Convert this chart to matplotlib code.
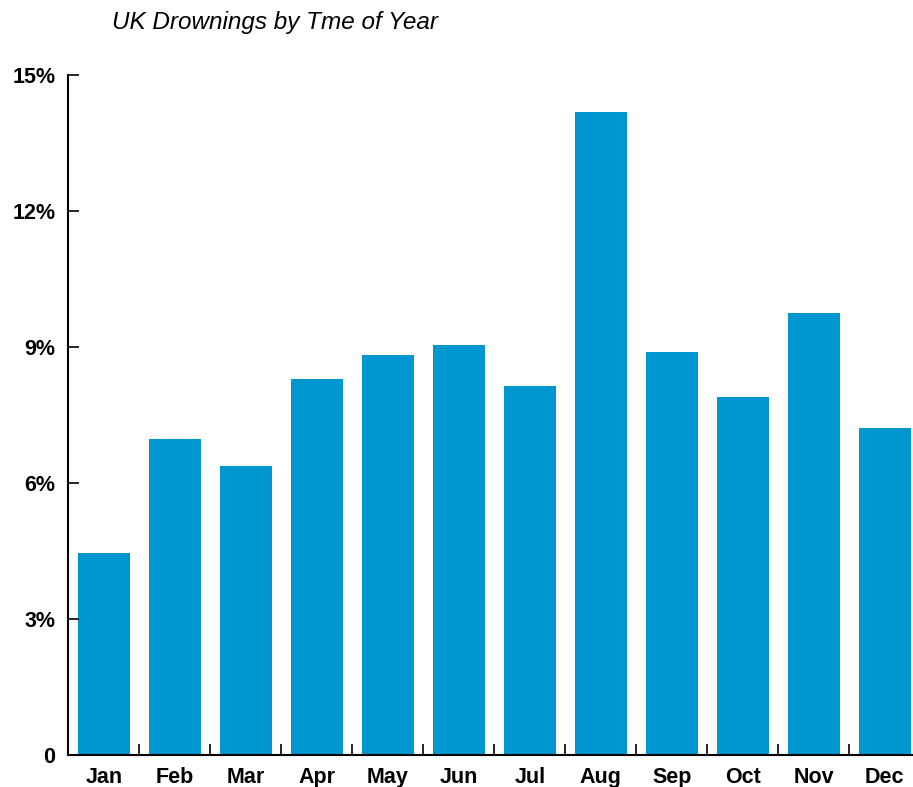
import matplotlib.pyplot as plt
import numpy as np

# share of UK drownings per month (%)
months = ['Jan', 'Feb', 'Mar', 'Apr', 'May', 'Jun',
          'Jul', 'Aug', 'Sep', 'Oct', 'Nov', 'Dec']
share = [4.46, 6.97, 6.38, 8.29, 8.82, 9.04,
         8.14, 14.18, 8.89, 7.90, 9.75, 7.21]
ytick_vals = [0, 3, 6, 9, 12, 15]
ytick_labels = ['0', '3%', '6%', '9%', '12%', '15%']

plt.rcParams['font.family'] = ['Liberation Sans', 'DejaVu Sans']

fig = plt.figure(figsize=(9.13, 7.87), dpi=100)
ax = fig.add_axes([0.075, 0.041, 0.933, 0.864])

x = np.arange(len(months))
ax.bar(x, share, width=0.73, color='#0096cf')

ax.set_xlim(-0.5, len(months) - 0.5)
ax.set_ylim(0, 15)

ax.set_yticks(ytick_vals)
ax.set_yticklabels(ytick_labels, fontsize=15.5, fontweight='bold')
ax.tick_params(axis='y', direction='in', length=8, width=1.2, pad=9.5)

# month labels in the middle, tick marks between the bars
ax.set_xticks(x)
ax.set_xticklabels(months, fontsize=15.5, fontweight='bold')
ax.tick_params(axis='x', which='major', length=0, pad=8.5)
ax.set_xticks(x[1:] - 0.5, minor=True)
ax.tick_params(axis='x', which='minor', direction='in', length=8, width=1.2)

for side in ['top', 'right']:
    ax.spines[side].set_visible(False)
for side in ['left', 'bottom']:
    ax.spines[side].set_linewidth(1.5)

fig.text(0.123, 0.972, 'UK Drownings by Tme of Year', fontsize=17.5,
         style='italic', ha='left', va='center')

fig.savefig('out.png', dpi=100)
